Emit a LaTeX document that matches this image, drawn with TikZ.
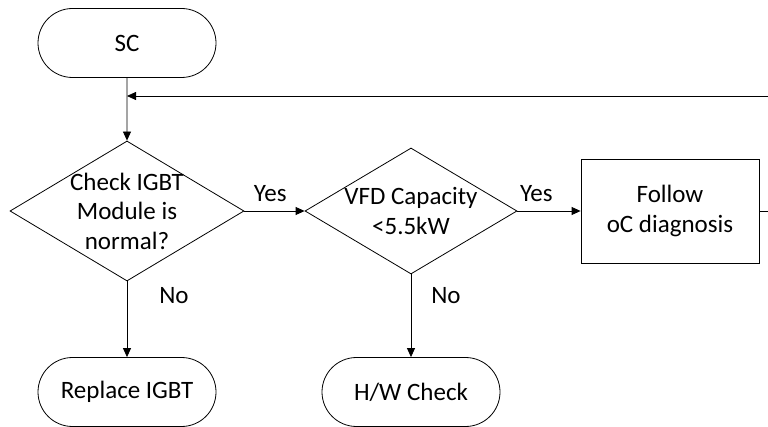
\documentclass[tikz,border=0pt]{standalone}
\usepackage{fontspec}
\setmainfont{Carlito}
\usetikzlibrary{
    shapes.geometric,
    shapes.misc,
    arrows.meta,
    positioning,
}

\begin{document}
\begin{tikzpicture}[
        x=1pt, y=-1pt,
        every node/.style={font=\fontsize{25}{29.5}\selectfont},
        term/.style={rounded rectangle, draw, minimum width=178pt, minimum height=69pt, inner sep=0pt},
        decide/.style={diamond, draw, minimum width=#1, inner sep=0pt},
        proc/.style={rectangle, draw, minimum width=178pt, minimum height=104pt, align=center},
        arr/.style={-{Triangle[length=9pt, width=8pt]}, line width=0.8pt},
        line width=0.8pt,
    ]
        \useasboundingbox (0,0) rectangle (768,427);
        \clip (0,0) rectangle (768,427);
        \node[term] (sc) at (127,43) {SC};
        \node[decide=234pt, minimum height=140pt, label={[align=center]center:Check IGBT\\Module is\\normal?}] (chk) at (127,211) {};
        \node[decide=212pt, minimum height=126pt, label={[align=center]center:VFD Capacity\\<5.5kW}] (cap) at (411,211) {};
        \node[proc] (oc) at (670,211) {Follow\\oC diagnosis};
        \node[term] (rep) at (127,392) {Replace IGBT};
        \node[term] (hw) at (411,392) {H/W Check};
        \coordinate (join) at (127,96);
        \coordinate (loop) at (790,211);
        \draw[arr] (sc) -- (chk);
        \draw[arr] (chk.east) -- node[pos=0.43, above, yshift=6pt] {Yes} (cap.west);
        \draw[arr] (cap.east) -- node[pos=0.3, above, yshift=6pt] {Yes} (oc.west);
        \draw[arr] (chk.south) -- (rep.north);
        \draw[arr] (cap.south) -- (hw.north);
        \draw[arr] (oc.east) -- (loop) |- (join);
        \node at (174,296) {No};
        \node at (446,296) {No};
    \end{tikzpicture}
\end{document}
